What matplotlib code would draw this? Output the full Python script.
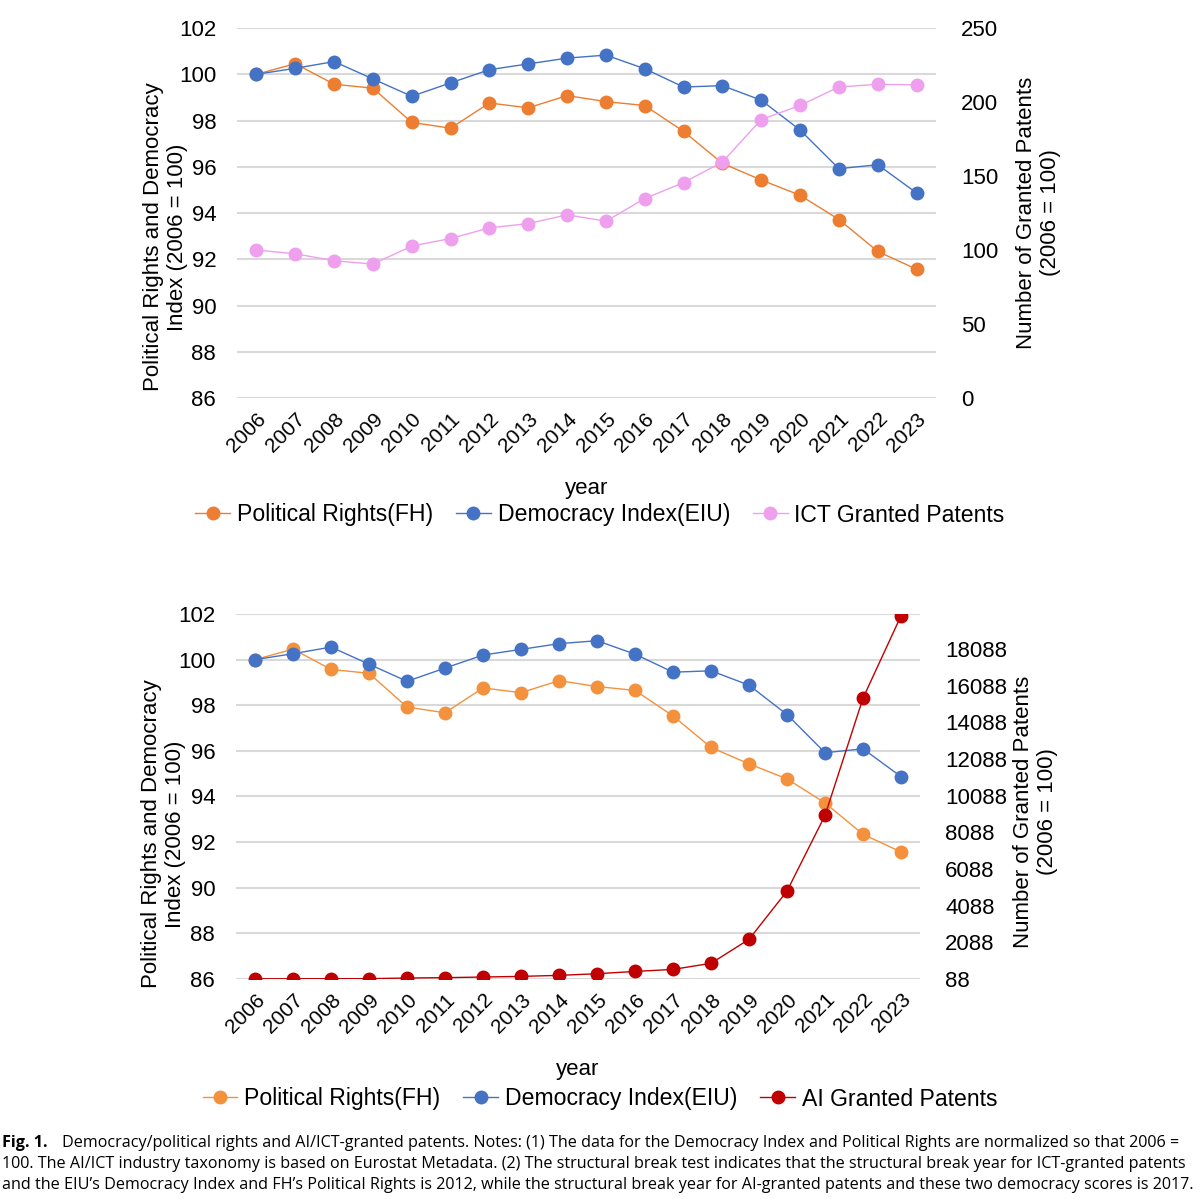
import matplotlib.pyplot as plt
from matplotlib.lines import Line2D

plt.rcParams['font.family'] = ['Liberation Sans', 'DejaVu Sans']

years = [str(y) for y in range(2006, 2024)]

# 정규화된 민주주의 지표 (2006 = 100)
political_rights = [100.0, 100.46, 99.57, 99.40, 97.92, 97.67, 98.76, 98.55, 99.08,
                    98.82, 98.65, 97.53, 96.15, 95.43, 94.77, 93.72, 92.34, 91.57]
democracy_index = [100.0, 100.26, 100.55, 99.80, 99.05, 99.63, 100.20, 100.45, 100.70,
                   100.83, 100.24, 99.45, 99.51, 98.88, 97.59, 95.92, 96.09, 94.87]

# 특허 건수 (2006 = 100)
ict_patents = [100, 97.5, 92.8, 90.5, 102.7, 107.8, 115.0, 117.9, 123.8,
               119.5, 134.8, 145.6, 159.5, 188.2, 197.7, 210.2, 212.0, 211.6]
ai_patents = [100, 100, 105, 105, 140, 160, 195, 230, 285,
              375, 500, 610, 943, 2252, 4888, 9015, 15415, 19904]

left_ticks = list(range(86, 103, 2))
ict_ticks = [0, 50, 100, 150, 200, 250]
ai_ticks = list(range(88, 20000, 2000))

left_label = "Political Rights and Democracy\nIndex (2006 = 100)"
right_label = "Number of Granted Patents\n(2006 = 100)"

caption = [
    "Democracy/political rights and AI/ICT-granted patents. Notes: (1) The data for the Democracy Index and Political Rights are normalized so that 2006 =",
    "100. The AI/ICT industry taxonomy is based on Eurostat Metadata. (2) The structural break test indicates that the structural break year for ICT-granted patents",
    "and the EIU\u2019s Democracy Index and FH\u2019s Political Rights is 2012, while the structural break year for AI-granted patents and these two democracy scores is 2017.",
]

fig = plt.figure(figsize=(12, 11.99), dpi=100)


def draw_panel(rect, orange, patents, pat_color, pat_name, pat_ylim, pat_ticks,
               legend_y, left_lab_xy, right_lab_xy):
    ax = fig.add_axes(rect)
    x = range(len(years))
    ax.set_ylim(86, 102)
    ax.set_yticks(left_ticks)
    ax.set_xlim(-0.5, len(years) - 0.5)
    ax.grid(axis='y', color='#D9D9D9', linewidth=1.5)
    ax.set_axisbelow(True)
    for s in ax.spines.values():
        s.set_visible(False)
    ax.tick_params(length=0, labelsize=16)
    ax.tick_params(axis='y', pad=15)
    ax.set_xticks(list(x))
    ax.set_xticklabels(years, rotation=45, ha='right', rotation_mode='anchor', fontsize=15)
    ax.tick_params(axis='x', pad=8)
    ax.set_xlabel("year", fontsize=16, labelpad=16)
    ax.set_ylabel(left_label, fontsize=16)
    ax.yaxis.set_label_coords(*left_lab_xy)

    ax.plot(x, political_rights, color=orange, marker='o', markersize=9, linewidth=1)
    ax.plot(x, democracy_index, color='#4472C4', marker='o', markersize=9, linewidth=1)

    ax2 = ax.twinx()
    ax2.set_ylim(*pat_ylim)
    ax2.set_yticks(pat_ticks)
    for s in ax2.spines.values():
        s.set_visible(False)
    ax2.tick_params(length=0, labelsize=16, pad=18)
    ax2.plot(x, patents, color=pat_color, marker='o', markersize=9, linewidth=1)
    ax2.set_ylabel(right_label, fontsize=16)
    ax2.yaxis.set_label_coords(*right_lab_xy)

    handles = [
        Line2D([], [], color=orange, marker='o', markersize=9, linewidth=1),
        Line2D([], [], color='#4472C4', marker='o', markersize=9, linewidth=1),
        Line2D([], [], color=pat_color, marker='o', markersize=9, linewidth=1),
    ]
    names = ["Political Rights(FH)", "Democracy Index(EIU)", pat_name]
    fig.legend(handles, names, loc='center', bbox_to_anchor=(0.5, legend_y), ncol=3,
               frameon=False, fontsize=16.6, handlelength=1.5, columnspacing=1.0,
               handletextpad=0.3)


draw_panel([0.1975, 0.668, 0.5825, 0.3086], '#ED7D31', ict_patents, '#EE9FEE',
           "ICT Granted Patents", (0, 250), ict_ticks, 1 - 515 / 1199,
           (-0.070, 0.435), (1.114, 0.5))
draw_panel([0.1967, 0.1835, 0.570, 0.3044], '#F4913D', ai_patents, '#C00000',
           "AI Granted Patents", (88, 20000), ai_ticks, 1 - 1099 / 1199,
           (-0.073, 0.397), (1.136, 0.458))

cap_font = ['Open Sans', 'DejaVu Sans']
cap_size = 11.6
fig.text(0.002, 1 - 1143 / 1199, "Fig. 1.", fontsize=cap_size, fontweight='bold',
         family=cap_font, va='center')
fig.text(0.052, 1 - 1143 / 1199, caption[0], fontsize=cap_size, family=cap_font, va='center')
fig.text(0.002, 1 - 1164 / 1199, caption[1], fontsize=cap_size, family=cap_font, va='center')
fig.text(0.002, 1 - 1185 / 1199, caption[2], fontsize=cap_size, family=cap_font, va='center')

fig.savefig("out.png", dpi=100)
